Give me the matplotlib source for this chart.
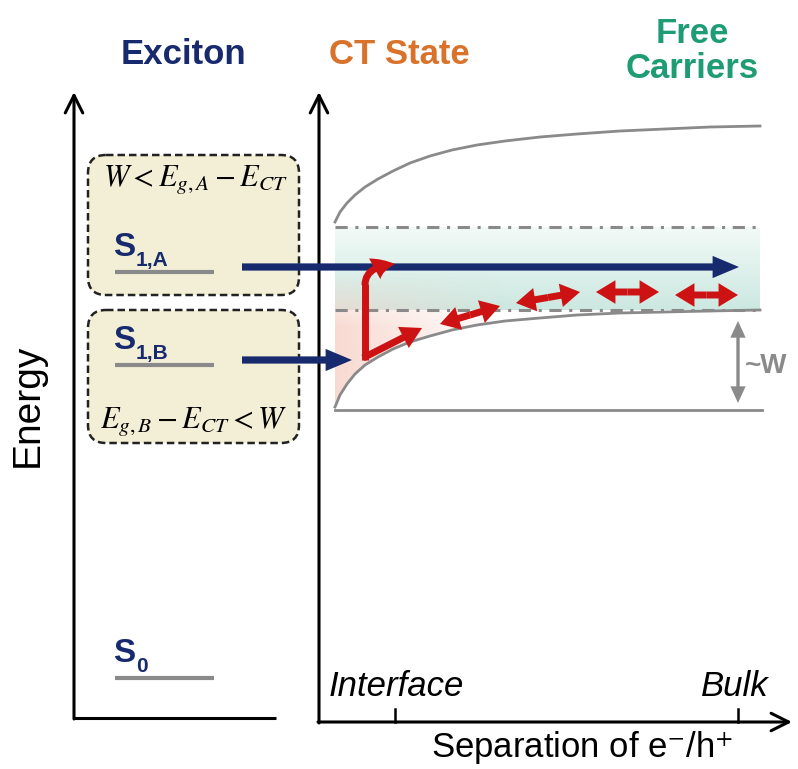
import numpy as np
import matplotlib.pyplot as plt
from matplotlib.patches import FancyBboxPatch, FancyArrowPatch, Polygon
from matplotlib.path import Path

plt.rcParams['mathtext.fontset'] = 'stix'
plt.rcParams['font.family'] = ['Liberation Sans', 'DejaVu Sans']

# schematic values, in pixel units of the figure (y grows downward)
level_names = ['S', 'S', 'S']
level_subs = ['1,A', '1,B', '0']
level_y = [272, 365, 678]

# CT / free-carrier energy curves
sep_x = [335, 340, 347, 355, 365, 378, 393, 410, 430, 452, 477, 505,
         540, 577, 620, 665, 710, 760]
upper_y = [222, 212, 203, 195, 187, 179, 171, 163, 156, 150, 145, 141,
           137, 134, 131, 129, 127, 126]
lower_y = [407, 395, 384, 374, 365, 357, 349, 342, 336, 330, 325, 321,
           318, 315, 313, 312, 311, 310]
bottom_y = 410
band_top, band_bot = 227, 310

# hopping arrows of free carriers (x0, y0, x1, y1)
hops = [(440, 324, 500, 306), (516, 303, 580, 292),
        (596, 292, 659, 292), (675, 295, 738, 295)]

navy = '#172a6e'
red = '#cc1212'
grey = '#8a8a8a'


def arrow(p0, p1, color, tail, hw, hl, ms=10, z=5):
    # filled single-headed arrow from p0 to p1
    a = FancyArrowPatch(p0, p1, mutation_scale=ms, color=color, lw=0,
                        shrinkA=0, shrinkB=0, zorder=z,
                        arrowstyle=f'simple,head_width={hw},head_length={hl},'
                                   f'tail_width={tail}')
    ax.add_patch(a)


def dbl_arrow(p0, p1, color, tail, hw, hl, ms=10, z=5):
    mid = ((p0[0] + p1[0]) / 2, (p0[1] + p1[1]) / 2)
    arrow(mid, p0, color, tail, hw, hl, ms, z)
    arrow(mid, p1, color, tail, hw, hl, ms, z)


fig = plt.figure(figsize=(7.98, 7.69), dpi=100)
ax = fig.add_axes([0, 0, 1, 1])
ax.set_xlim(0, 798)
ax.set_ylim(769, 0)
ax.axis('off')

# titles
ax.text(183, 54, 'Exciton', color=navy, fontsize=25, fontweight='bold',
        ha='center', va='center')
ax.text(399, 55, 'CT State', color='#d9722a', fontsize=25, fontweight='bold',
        ha='center', va='center')
ax.text(692, 51, 'Free\nCarriers', color='#1e9c73', fontsize=25,
        fontweight='bold', ha='center', va='center', linespacing=1.1)

# axes arrows
ax_kw = dict(arrowstyle='->,head_width=0.35,head_length=0.7', lw=2.2,
             color='black', mutation_scale=18, shrinkA=0, shrinkB=0)
ax.annotate('', xy=(74, 92), xytext=(74, 719), arrowprops=ax_kw)
ax.plot([74, 276], [718, 718], color='black', lw=2.2, solid_capstyle='butt')
ax.annotate('', xy=(319, 92), xytext=(319, 723), arrowprops=ax_kw)
ax.annotate('', xy=(792, 722), xytext=(318, 722), arrowprops=ax_kw)
ax.plot([395, 395], [709, 722], color='black', lw=1.8)
ax.plot([738, 738], [709, 722], color='black', lw=1.8)
ax.text(329, 686, 'Interface', fontsize=25, style='italic', va='center')
ax.text(769, 686, 'Bulk', fontsize=25, style='italic', va='center', ha='right')
ax.text(582, 748, r'Separation of e$^{-}$/h$^{+}$', fontsize=25,
        ha='center', va='center')
ax.text(28, 405, 'Energy', fontsize=28, rotation=90, ha='center', va='center')

# exciton boxes
for y0, y1 in [(155, 295), (310, 443)]:
    box = FancyBboxPatch((88, y0), 211, y1 - y0,
                         boxstyle='round,pad=0,rounding_size=18',
                         fc='#f3efd6', ec='#222222', lw=1.8, ls=(0, (3, 1.6)))
    ax.add_patch(box)
ax.text(196, 180, r'$W < E_{g,A} - E_{CT}$', fontsize=22,
        ha='center', va='center')
ax.text(194, 421, r'$E_{g,B} - E_{CT} < W$', fontsize=22,
        ha='center', va='center')

# energy levels
for name, sub, y in zip(level_names, level_subs, level_y):
    ax.plot([115, 214], [y, y], color=grey, lw=3, solid_capstyle='butt')
    s = ax.text(113, y - 16, name, color=navy, fontsize=24, fontweight='bold',
                va='baseline')
    ax.annotate(sub, xy=(1, 0), xycoords=s, xytext=(0.5, -2),
                textcoords='offset points', color=navy, fontsize=15,
                fontweight='bold', va='baseline')

# band fills
xs = np.array(sep_x, dtype=float)
lo = np.array(lower_y, dtype=float)
grad = np.linspace(0, 1, 100)[:, None]
c0 = np.array([0.95, 0.98, 0.97])
c1 = np.array([0.80, 0.91, 0.88])
img = c0 + (c1 - c0) * grad[..., None]
img = np.repeat(img, 2, axis=1)
ax.imshow(img, extent=[335, 760, band_bot, band_top], aspect='auto', zorder=1)

pink_poly = np.column_stack([np.r_[xs, xs[::-1]],
                             np.r_[lo, np.full_like(xs, 270)]])
gy = np.linspace(270, 410, 120)[:, None]
gx = np.linspace(335, 760, 200)[None, :]
alpha = np.clip(1 - (gx - 335) / 170, 0, 1) * np.clip((gy - 272) / 55, 0, 1)
pink = np.zeros((120, 200, 4))
pink[..., 0], pink[..., 1], pink[..., 2] = 0.97, 0.84, 0.80
pink[..., 3] = alpha * 0.9
pim = ax.imshow(pink, extent=[335, 760, 410, 270], aspect='auto', zorder=1.2)
pim.set_clip_path(Polygon(pink_poly, closed=True, transform=ax.transData))

# curves and dash-dot levels
ax.plot(sep_x, upper_y, color=grey, lw=2)
ax.plot(sep_x, lower_y, color=grey, lw=2, zorder=3)
ax.plot([335, 762], [bottom_y, bottom_y], color=grey, lw=2)
for y in [band_top, band_bot]:
    ax.plot([335, 760], [y, y], color=grey, lw=2.2, dashes=(4, 2.5, 1, 2.5),
            zorder=2)

# exciton dissociation arrows
arrow((242, level_y[0] - 5), (739, level_y[0] - 5), navy, 0.52, 1.6, 1.9)
arrow((242, level_y[1] - 5), (352, level_y[1] - 5), navy, 0.52, 1.6, 1.9)

# CT relaxation arrows
lw_red = 5.0
ax.plot([365, 365], [360, 284], color=red, lw=lw_red, solid_capstyle='butt',
        zorder=5)
bend = Path([(365, 285), (365, 266), (395, 264)],
            [Path.MOVETO, Path.CURVE3, Path.CURVE3])
ax.add_patch(FancyArrowPatch(path=bend, mutation_scale=10, color=red, lw=0,
                             zorder=5,
                             arrowstyle='simple,head_width=1.7,'
                                        'head_length=1.5,tail_width=0.5'))
arrow((363, 358), (422, 328), red, 0.5, 1.7, 1.5)
for x0, y0, x1, y1 in hops:
    dbl_arrow((x0, y0), (x1, y1), red, 0.5, 1.7, 1.4)

# binding energy marker
dbl_arrow((738, 321), (738, 403), grey, 0.24, 1.1, 1.2)
ax.text(745, 366, '~W', color=grey, fontsize=20, fontweight='bold',
        va='center')

fig.savefig('out.png', dpi=100)
